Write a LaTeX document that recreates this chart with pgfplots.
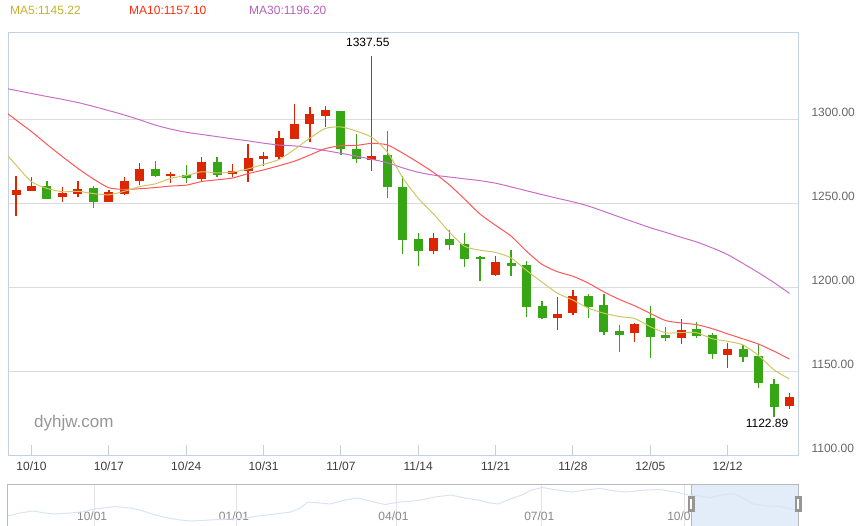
\documentclass[border=0pt]{standalone}
\usepackage{fontspec}
\setmainfont{Liberation Sans}
\usepackage{pgfplots}
\usepackage{pgfplotstable}
\pgfplotsset{compat=1.18}
\pgfkeys{/pgf/number format/assume math mode=true}
\definecolor{cup}{RGB}{221,38,0}
\definecolor{cdown}{RGB}{55,166,20}
\definecolor{maA}{RGB}{206,198,100}
\definecolor{maAt}{RGB}{196,178,40}
\definecolor{maB}{RGB}{255,85,85}
\definecolor{maBt}{RGB}{255,45,10}
\definecolor{maC}{RGB}{200,110,200}
\definecolor{maCt}{RGB}{185,95,185}
\definecolor{axisc}{RGB}{196,209,228}
\definecolor{gridc}{RGB}{220,220,220}
\definecolor{navgrid}{RGB}{228,228,228}
\definecolor{ylab}{RGB}{102,102,102}
\definecolor{xlab}{RGB}{60,60,60}
\definecolor{navlab}{RGB}{136,136,136}
\definecolor{navline}{RGB}{215,228,244}
\definecolor{navsel}{RGB}{227,237,249}
\definecolor{navbox}{RGB}{185,185,185}
\definecolor{handle}{RGB}{150,150,150}
\definecolor{wm}{RGB}{150,150,150}

% i open high low close
\pgfplotstableread{
i o h l c
0 1254.9 1266.1 1242.3 1257.7
1 1257.3 1265.5 1257.0 1260.1
3 1253.4 1259.5 1250.8 1256.2
4 1255.5 1263.1 1253.8 1258.3
6 1250.8 1257.7 1250.5 1256.5
7 1255.5 1265.5 1254.9 1263.1
8 1263.3 1273.8 1260.9 1270.2
10 1266.3 1268.5 1262.1 1267.3
12 1264.5 1277.4 1262.7 1274.4
14 1267.4 1273.2 1265.7 1269.0
15 1268.8 1285.1 1262.7 1276.8
16 1276.4 1280.4 1272.2 1278.0
17 1277.6 1292.9 1276.4 1288.7
18 1288.3 1308.9 1288.0 1297.0
19 1297.2 1307.1 1286.5 1303.0
20 1302.0 1307.7 1295.2 1305.4
23 1275.8 1337.55 1269.2 1278.2
27 1221.6 1232.1 1219.8 1229.2
31 1207.3 1218.6 1206.7 1214.9
35 1181.7 1194.0 1174.6 1183.9
36 1184.7 1198.2 1183.5 1194.6
40 1172.8 1178.8 1167.4 1178.2
43 1169.8 1181.0 1166.3 1174.4
46 1159.7 1166.9 1152.0 1163.1
50 1129.3 1136.7 1127.6 1134.3
}\upT
\pgfplotstableread{
i o h l c
2 1260.1 1263.1 1252.3 1252.6
5 1258.9 1259.9 1247.2 1250.8
9 1270.2 1275.0 1265.7 1266.3
11 1266.8 1272.6 1261.9 1264.7
13 1274.4 1277.4 1265.7 1266.8
21 1304.8 1305.0 1278.8 1282.3
22 1282.1 1291.1 1274.0 1276.4
24 1278.6 1293.0 1253.2 1259.7
25 1259.5 1266.3 1219.6 1228.2
26 1228.6 1232.1 1212.7 1221.6
28 1228.4 1233.9 1222.2 1225.2
29 1225.6 1232.1 1212.1 1216.8
30 1217.6 1218.6 1203.8 1216.8
32 1214.3 1222.2 1206.7 1212.7
33 1213.1 1215.7 1182.3 1188.3
34 1188.7 1191.7 1181.1 1181.7
37 1194.6 1195.8 1181.7 1188.3
38 1189.3 1195.8 1171.6 1173.4
39 1173.8 1177.4 1161.5 1171.6
41 1181.5 1188.7 1157.9 1170.4
42 1171.4 1176.2 1168.0 1169.8
44 1175.0 1179.2 1169.8 1171.0
45 1171.4 1172.6 1157.3 1160.3
47 1163.1 1165.7 1155.5 1158.5
48 1158.9 1166.3 1140.1 1143.0
49 1142.1 1145.2 1122.89 1128.8
}\downT
% moving averages: i MA5 MA10 MA30
\pgfplotstableread{
i a b m
-1 1283.0 1306.5 1318.8
0 1272.6 1299.4 1317.0
1 1262.7 1292.5 1315.2
2 1258.7 1284.9 1313.4
3 1256.7 1277.6 1311.7
4 1257.0 1270.6 1309.8
5 1255.6 1264.3 1307.5
6 1254.9 1259.1 1305.0
7 1257.0 1258.1 1302.4
8 1259.8 1258.5 1299.5
9 1261.4 1259.2 1296.4
10 1264.7 1260.1 1294.0
11 1266.3 1260.6 1292.1
12 1268.6 1262.8 1290.8
13 1267.9 1263.8 1289.5
14 1268.4 1264.9 1288.2
15 1270.3 1267.5 1287.0
16 1273.0 1269.7 1285.6
17 1275.9 1272.2 1284.5
18 1281.9 1274.9 1284.0
19 1288.7 1278.6 1282.8
20 1294.4 1282.4 1281.2
21 1295.3 1284.1 1279.6
22 1292.8 1284.3 1277.9
23 1289.1 1285.5 1276.0
24 1280.4 1284.6 1274.0
25 1265.0 1279.7 1270.9
26 1252.8 1274.1 1268.3
27 1243.4 1268.1 1266.6
28 1232.8 1260.9 1265.5
29 1224.2 1252.3 1264.4
30 1221.9 1243.4 1263.3
31 1220.6 1236.7 1261.8
32 1217.3 1230.3 1259.6
33 1209.9 1221.3 1257.3
34 1202.9 1213.5 1255.0
35 1196.3 1209.1 1252.8
36 1192.2 1206.4 1250.7
37 1187.4 1202.3 1248.2
38 1184.4 1197.1 1245.0
39 1182.4 1192.6 1241.7
40 1181.2 1188.8 1238.5
41 1176.4 1184.3 1235.3
42 1172.7 1180.0 1232.5
43 1172.9 1178.6 1229.6
44 1172.8 1177.6 1226.8
45 1169.2 1175.2 1223.3
46 1167.7 1172.1 1219.3
47 1165.5 1169.1 1214.0
48 1159.2 1166.0 1208.5
49 1150.7 1161.8 1202.6
50 1145.2 1157.1 1196.2
}\maT
% navigator history line (x px, y px)
\pgfplotstableread{
x y
8 516
20 513
33 511
45 513
55 514
70 513
82 512
95 509
115 506.6
130 508
140 510
152 514
165 517.5
180 520
192 521
210 520
231 519
245 518
258 516
275 514
291 512
300 508
308 502
320 503
330 504
345 500
357 498
370 501
385 504.5
400 502
418 500.5
435 497
451 495
465 498
478 500
490 503
498 504
510 499
522 495
532 490
542 487.5
557 490
572 492
585 490
600 488.5
615 491
627 492
645 490
660 489.5
675 492
688 495
700 496
710 497.7
722 495
734 493.7
745 499
753 504
768 506
781 506.6
795 510
}\navT

\begin{document}
\begin{tikzpicture}[x=1pt,y=1pt]
\useasboundingbox (0,0) rectangle (861,-526);
\node[anchor=west, text=maAt, font=\fontsize{12}{14}\selectfont, inner sep=0] at (10,-10) {MA5:1145.22};
\node[anchor=west, text=maBt, font=\fontsize{12}{14}\selectfont, inner sep=0] at (129,-10) {MA10:1157.10};
\node[anchor=west, text=maCt, font=\fontsize{12}{14}\selectfont, inner sep=0] at (249,-10) {MA30:1196.20};

\begin{axis}[
  at={(8pt,-455pt)}, anchor=south west,
  scale only axis, width=790pt, height=422pt,
  xmin=-0.52, xmax=50.55, ymin=1100, ymax=1351.2,
  clip mode=individual,
  axis line style={axisc, line width=1pt},
  ytick={1100,1150,1200,1250,1300},
  ymajorgrids, grid style={gridc, line width=1pt},
  yticklabel pos=right, ytick pos=right,
  yticklabel={\pgfmathprintnumber[fixed,fixed zerofill,precision=2,1000 sep={}]{\tick}},
  yticklabel style={anchor=west, xshift=10pt, yshift=7pt, text=ylab, font=\fontsize{12}{14}\selectfont},
  ytick style={draw=none},
  xtick={1,6,11,16,21,26,31,36,41,46},
  xticklabels={10/10,10/17,10/24,10/31,11/07,11/14,11/21,11/28,12/05,12/12},
  xtick pos=bottom,
  xtick style={axisc, line width=1pt},
  major tick length=10pt, tick align=inside,
  xticklabel style={text=xlab, font=\fontsize{12}{14}\selectfont, yshift=-3pt},
]
% wicks
\addplot[forget plot, draw=none, mark=none, error bars/.cd, y dir=both, y explicit, error mark=none,
  error bar style={draw=cup, line width=1.3pt}]
  table[x=i, y expr={(\thisrow{h}+\thisrow{l})/2}, y error expr={(\thisrow{h}-\thisrow{l})/2}] {\upT};
\addplot[forget plot, draw=none, mark=none, error bars/.cd, y dir=both, y explicit, error mark=none,
  error bar style={draw=cdown, line width=1.3pt}]
  table[x=i, y expr={(\thisrow{h}+\thisrow{l})/2}, y error expr={(\thisrow{h}-\thisrow{l})/2}] {\downT};
% bodies
\addplot[forget plot, draw=none, mark=none, error bars/.cd, y dir=both, y explicit, error mark=none,
  error bar style={draw=cup, line width=9pt}]
  table[x=i, y expr={(\thisrow{o}+\thisrow{c})/2}, y error expr={max(abs(\thisrow{c}-\thisrow{o})/2,0.4)}] {\upT};
\addplot[forget plot, draw=none, mark=none, error bars/.cd, y dir=both, y explicit, error mark=none,
  error bar style={draw=cdown, line width=9pt}]
  table[x=i, y expr={(\thisrow{o}+\thisrow{c})/2}, y error expr={max(abs(\thisrow{c}-\thisrow{o})/2,0.4)}] {\downT};
% moving averages
\addplot[maC, line width=1pt, smooth, tension=0.4, mark=none] table[x=i, y=m] {\maT};
\addplot[maB, line width=1pt, smooth, tension=0.4, mark=none] table[x=i, y=b] {\maT};
\addplot[maA, line width=1pt, smooth, tension=0.4, mark=none] table[x=i, y=a] {\maT};
\node[anchor=base, font=\fontsize{12}{14}\selectfont, inner sep=0, xshift=-4pt, yshift=9.7pt] at (axis cs:23,1337.55) {1337.55};
\node[anchor=north, font=\fontsize{12}{14}\selectfont, inner sep=0, xshift=-7pt, yshift=-2.5pt] at (axis cs:49,1122.89) {1122.89};
\end{axis}

\node[anchor=west, text=wm, font=\fontsize{17}{20}\selectfont, inner sep=0] at (34,-423) {dyhjw.com};

\begin{axis}[
  at={(8pt,-526pt)}, anchor=south west,
  scale only axis, width=790pt, height=42pt,
  xmin=8, xmax=798, ymin=484, ymax=526, y dir=reverse,
  clip=false,
  axis line style={navbox, line width=1pt},
  ytick=\empty,
  xtick={94.6,236.5,396,541.8,684.8},
  xticklabels={10/01,01/01,04/01,07/01,10/01},
  xmajorgrids, grid style={navgrid, line width=1pt},
  xtick style={draw=none},
  xticklabel style={anchor=base, yshift=6pt, xshift=-2.5pt, text=navlab, font=\fontsize{12}{14}\selectfont},
]
\addplot[fill=navsel, draw=navbox, line width=1pt] coordinates {(691,484) (798,484) (798,526) (691,526)} -- cycle;
\addplot[navline, line width=1pt, mark=none] table[x=x, y=y] {\navT};
\fill[handle] (axis cs:687.5,496) rectangle (axis cs:694.5,512);
\fill[handle] (axis cs:794.5,496) rectangle (axis cs:801.5,512);
\draw[white, line width=0.6pt] (axis cs:690.3,499) -- (axis cs:690.3,509);
\draw[white, line width=0.6pt] (axis cs:691.7,499) -- (axis cs:691.7,509);
\draw[white, line width=0.6pt] (axis cs:797.3,499) -- (axis cs:797.3,509);
\draw[white, line width=0.6pt] (axis cs:798.7,499) -- (axis cs:798.7,509);
\end{axis}
\end{tikzpicture}
\end{document}
